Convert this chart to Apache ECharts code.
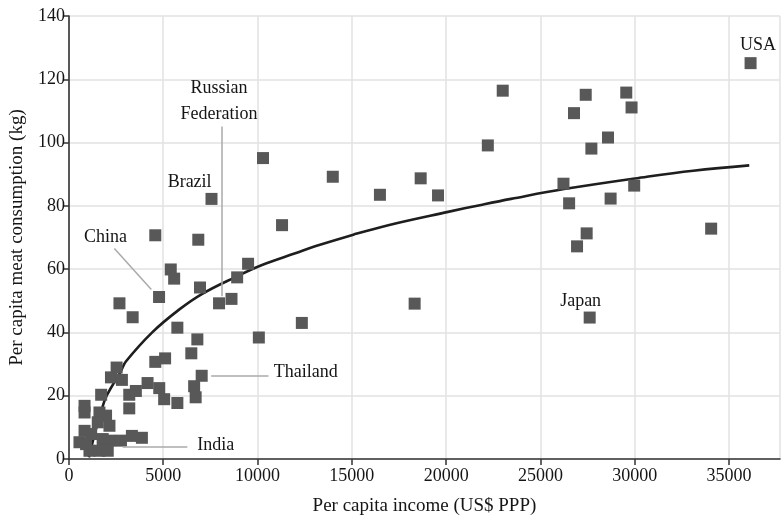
<!DOCTYPE html>
<html>
<head>
<meta charset="utf-8">
<script src="https://cdn.jsdelivr.net/npm/echarts@6/dist/echarts.min.js"></script>
<style>html,body{margin:0;padding:0;background:#fff}#c{width:782px;height:521px}</style>
</head>
<body>
<div id="c"></div>
<script>
// Per capita income (US$ PPP) vs per capita meat consumption (kg)
var countryPoints = [
  [36140,125.1],[23000,116.4],[27400,115.1],[29550,115.8],[26780,109.3],[29830,111.1],
  [22210,99.1],[28580,101.6],[27700,98.1],[18650,88.7],[19570,83.3],[26220,87.0],
  [29970,86.4],[26520,80.8],[28720,82.3],[34050,72.8],[27450,71.3],[26940,67.2],
  [18330,49.1],[27610,44.7],[13990,89.2],[16490,83.5],[11300,73.9],[12350,43.0],
  [10290,95.1],[7560,82.2],[4580,70.7],[6860,69.3],[5400,59.9],[5580,57.0],
  [9500,61.7],[8920,57.4],[6950,54.2],[4780,51.2],[8620,50.6],[7960,49.2],
  [2680,49.2],[3380,44.8],[5750,41.5],[6810,37.8],[10070,38.4],[6490,33.4],
  [4580,30.7],[5100,31.8],[2530,28.9],[2230,25.8],[2810,25.0],[7040,26.3],
  [6640,23.0],[6720,19.5],[1710,20.3],[3200,20.3],[3550,21.5],[4170,24.0],
  [4790,22.4],[5050,18.9],[5750,17.7],[3200,16.0],[830,16.8],[830,14.7],
  [1620,14.7],[1970,13.7],[1530,11.6],[2150,10.5],[830,8.9],[1180,7.9],
  [560,5.3],[1790,6.3],[2150,5.8],[2760,5.8],[3340,7.3],[3870,6.7],
  [1090,2.6],[1620,2.6],[2060,2.6],[910,4.7]
];
// trend curve
var trendPoints = [
  [1060,0.5],[1880,18.3],[2410,24.3],[2760,27.8],[3020,30.8],[4430,40.1],[5840,47.2],
  [7070,52.2],[8830,57.5],[10240,61.3],[12000,65.0],[13050,67.2],[15080,70.9],
  [16930,73.9],[20100,78.1],[21850,80.3],[23440,82.2],[26250,85.3],[30650,89.2],
  [33100,91.1],[36070,92.8]
];
var countryLabels = ['USA','Russian\nFederation','Brazil','China','Thailand','India','Japan'];
var labelAnchors = [[36530,130.8],[7960,113.2],[6400,87.3],[1940,70.2],[12560,27.5],[7780,4.2],[27130,49.9]];
var leaderLines = [
  [[2410,66.5],[4370,53.6]],
  [[8080,105.1],[8080,51.4]],
  [[7540,26.3],[10580,26.3]],
  [[2850,3.8],[6280,3.8]]
];
var xTicks = [0,5000,10000,15000,20000,25000,30000,35000];
var yTicks = [0,20,40,60,80,100,120,140];

var FONT = 'Liberation Serif';
var TXT = '#151515';
var chart = echarts.init(document.getElementById('c'), null, {renderer:'canvas'});
chart.setOption({
  animation:false,
  backgroundColor:'#fff',
  textStyle:{fontFamily:FONT},
  grid:{left:66, top:16, right:2, bottom:61, containLabel:false},
  xAxis:{
    type:'value', min:xTicks[0], max:37700, interval:5000,
    name:'Per capita income (US$ PPP)', nameLocation:'middle', nameGap:38,
    nameTextStyle:{fontFamily:FONT, fontSize:19, color:TXT},
    axisLine:{lineStyle:{color:'#333', width:1.6}},
    axisTick:{show:true, length:6, lineStyle:{color:'#333', width:1.5}},
    axisLabel:{fontFamily:FONT, fontSize:18, color:TXT, margin:8, showMaxLabel:false,
      formatter:function(v){return xTicks.indexOf(v)>=0? String(v):'';}},
    splitLine:{show:true, lineStyle:{color:'#e2e2e2', width:1.5}}
  },
  yAxis:{
    type:'value', min:yTicks[0], max:yTicks[yTicks.length-1], interval:20,
    name:'Per capita meat consumption (kg)', nameLocation:'middle', nameGap:41,
    nameTextStyle:{fontFamily:FONT, fontSize:19, color:TXT},
    axisLine:{show:true, lineStyle:{color:'#333', width:1.6}},
    axisTick:{show:true, length:6, lineStyle:{color:'#333', width:1.5}},
    axisLabel:{fontFamily:FONT, fontSize:18, color:TXT, margin:4},
    splitLine:{show:true, lineStyle:{color:'#e2e2e2', width:1.5}}
  },
  series:[
    {
      type:'line', data:trendPoints, smooth:0.4, symbol:'none', z:3,
      lineStyle:{color:'#1e1e1e', width:2.6},
      markLine:{
        silent:true, symbol:'none', animation:false,
        lineStyle:{color:'#aaa', width:1.5, type:'solid'},
        label:{show:false},
        data:leaderLines.map(function(l){return [{coord:l[0]},{coord:l[1]}];})
      }
    },
    {
      type:'scatter', data:countryPoints, symbol:'rect', symbolSize:12, z:4,
      itemStyle:{color:'#585858', opacity:1}
    },
    {
      type:'scatter', silent:true, z:5, symbolSize:0,
      itemStyle:{color:'rgba(0,0,0,0)'},
      data:countryLabels.map(function(n,i){return {name:n, value:labelAnchors[i]};}),
      label:{show:true, position:'inside', formatter:function(p){return p.name;},
        fontFamily:FONT, fontSize:18, color:TXT, lineHeight:26, textBorderWidth:0, opacity:1}
    }
  ]
});
</script>
</body>
</html>
